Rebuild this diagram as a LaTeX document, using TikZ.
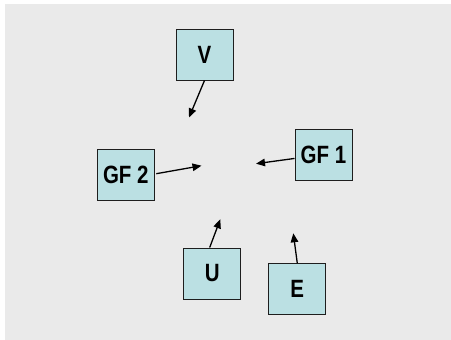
\documentclass[tikz,border=0pt]{standalone}
\usepackage{fontspec}
\setmainfont{Liberation Sans}
\usetikzlibrary{arrows.meta,calc}
\definecolor{panel}{HTML}{EAEAEA}
\definecolor{boxfill}{HTML}{BBE0E3}
\definecolor{boxline}{HTML}{1E1E1E}
\tikzset{
  factor/.style={draw=boxline, line width=1pt, fill=boxfill, inner sep=0pt,
    minimum width=57pt, minimum height=51pt,
    font=\fontsize{25}{25}\selectfont\bfseries, text=black},
  link/.style={line width=1.3pt, -{Triangle[length=9pt,width=7.5pt]}}
}
\newcommand{\lbl}[1]{\scalebox{0.82}[1]{#1}}
\begin{document}
\begin{tikzpicture}[x=1pt,y=-1pt]
  \useasboundingbox (0,0) rectangle (451,340);
  \fill[panel] (5,4) rectangle (451,340);

  \node[factor] (v)   at (204.5,54.5)  {\lbl{V}};
  \node[factor] (gf1) at (323.5,154.5) {\lbl{GF 1}};
  \node[factor] (gf2) at (125.8,174.5) {\lbl{GF 2}};
  \node[factor] (u)   at (212.2,273.5) {\lbl{U}};
  \node[factor] (e)   at (297.3,289.3) {\lbl{E}};

  \coordinate (tv)   at (189,117.5);
  \coordinate (tgf1) at (256,163.7);
  \coordinate (tgf2) at (201.5,165.7);
  \coordinate (tu)   at (220.3,219.3);
  \coordinate (te)   at (293.3,233.3);

  \draw[link] (v.south) -- (tv);
  \draw[link] (gf1) -- (tgf1);
  \draw[link] ($(gf2.east)+(1.5,-0.8)$) -- (tgf2);
  \draw[link] ($(u.north)+(-2.5,0)$) -- (tu);
  \draw[link] (e.north) -- (te);
\end{tikzpicture}
\end{document}
